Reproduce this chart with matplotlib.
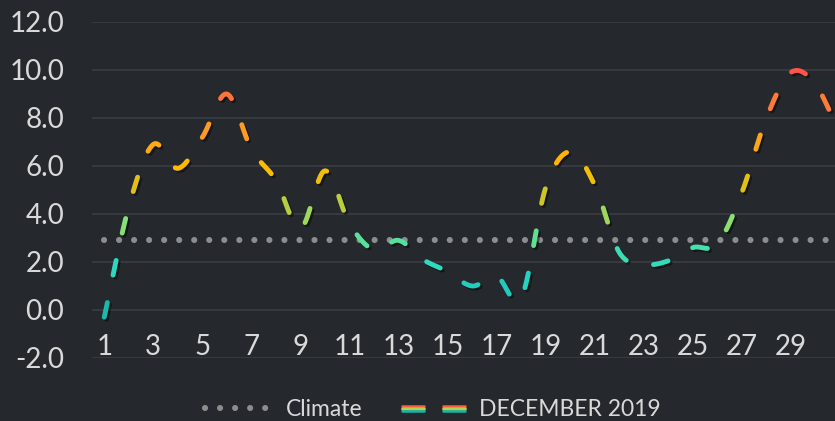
import numpy as np
import matplotlib
matplotlib.use("Agg")
import matplotlib.pyplot as plt
import matplotlib.patheffects as pe
from matplotlib.colors import LinearSegmentedColormap, Normalize
from matplotlib.legend_handler import HandlerBase
from matplotlib.lines import Line2D

plt.rcParams["font.family"] = ["Lato", "DejaVu Sans"]

# data
days = list(range(1, 32))
dec_temp = [-0.3, 4.3, 6.9, 5.9, 7.2, 9.0, 6.7, 5.4, 3.4, 5.8,
            3.6, 2.5, 2.9, 2.1, 1.6, 1.0, 1.4, 0.5, 5.1, 6.6,
            5.2, 2.4, 1.9, 2.05, 2.6, 2.75, 4.9, 8.0, 9.9, 9.4,
            7.3]
climate = [2.9] * 31
xticks = list(range(1, 30, 2))
yticks = [-2, 0, 2, 4, 6, 8, 10, 12]

bg = "#25292d"
grid_col = "#3a3e42"
text_col = "#d9d9d9"

# colour by temperature, teal (cold) -> red (warm)
stops = [(-2.0, "#129d96"), (-0.5, "#17aea3"), (1.5, "#28d6c6"), (2.6, "#44e0ac"),
         (3.6, "#8ce070"), (4.8, "#cfc424"), (6.0, "#ffbb00"), (7.3, "#ff9f22"),
         (8.5, "#ff7f35"), (10.0, "#ff5349"), (12.0, "#ff4040")]
vmin, vmax = -2.0, 12.0
cmap = LinearSegmentedColormap.from_list(
    "temp", [((v - vmin) / (vmax - vmin), c) for v, c in stops])
norm = Normalize(vmin, vmax)

fig = plt.figure(figsize=(8.35, 4.21), dpi=100, facecolor=bg)
ax = fig.add_axes([92 / 835, 63 / 421, 1 - 92 / 835, 336 / 421])
ax.set_facecolor(bg)
ax.set_xlim(0.5, 1 + (835 - 105) / 24.5)
ax.set_ylim(-2, 12)

ax.set_yticks(yticks)
ax.set_yticklabels(["%.1f" % v for v in yticks])
ax.set_xticks(xticks)
ax.set_xticklabels([str(d) for d in xticks])
ax.grid(axis="y", color=grid_col, lw=1.2)
ax.set_axisbelow(True)
for s in ax.spines.values():
    s.set_visible(False)
ax.spines["bottom"].set_position(("data", 0))
ax.tick_params(axis="y", length=0, pad=20, labelsize=20, labelcolor=text_col)
ax.tick_params(axis="x", length=0, pad=17, labelsize=20, labelcolor=text_col)

# climate reference, dotted
clim_line, = ax.plot(days, climate, color="#8d8d8d", lw=4.4,
                     dashes=(0.01, 2.45), dash_capstyle="round", label="Climate")

# smoothed december curve (bezier like Excel's smoothed line)
pts = np.column_stack([days, dec_temp]).astype(float)
n = len(pts)
t = np.linspace(0, 1, 60)[:, None]
curve = []
for i in range(n - 1):
    p0 = pts[max(i - 1, 0)]
    p1 = pts[i]
    p2 = pts[i + 1]
    p3 = pts[min(i + 2, n - 1)]
    c1 = p1 + (p2 - p0) / 6
    c2 = p2 - (p3 - p1) / 6
    seg = ((1 - t) ** 3) * p1 + 3 * ((1 - t) ** 2) * t * c1 + 3 * (1 - t) * t ** 2 * c2 + t ** 3 * p2
    curve.append(seg if i == 0 else seg[1:])
curve = np.vstack(curve)

disp = ax.transData.transform(curve)
arc = np.concatenate([[0], np.cumsum(np.hypot(*np.diff(disp, axis=0).T))])
dash_on, period = 15.0, 43.0
shadow = [pe.SimpleLineShadow(offset=(1.5, -1.5), shadow_color="black", alpha=0.45),
          pe.Normal()]
start = 0.0
while start < arc[-1]:
    s = np.linspace(start, min(start + dash_on, arc[-1]), 12)
    dx = np.interp(s, arc, curve[:, 0])
    dy = np.interp(s, arc, curve[:, 1])
    ax.plot(dx, dy, color=cmap(norm(dy.mean())), lw=3.5,
            solid_capstyle="round", path_effects=shadow)
    start += period


class StripedDashes(HandlerBase):
    def create_artists(self, legend, orig_handle, xdescent, ydescent,
                       width, height, fontsize, trans):
        arts = []
        cols = ["#ff5a45", "#ffb400", "#8ee06a", "#1ab5aa"]
        w = width * 0.4
        for x0 in (0, width - w):
            for k, c in enumerate(cols):
                yy = height / 2 + 1.8 - k * 1.2
                arts.append(Line2D([x0 + 2, x0 + w - 2], [yy, yy], color=c, lw=1.8,
                                   solid_capstyle="round", transform=trans))
        return arts


dec_handle = Line2D([], [], label="DECEMBER 2019")
fig.legend([clim_line, dec_handle], ["Climate", "DECEMBER 2019"],
           handler_map={dec_handle: StripedDashes()},
           loc="center", bbox_to_anchor=(433 / 835, 1 - 410 / 421), ncol=2,
           frameon=False, fontsize=16.5, labelcolor=text_col,
           handlelength=3.0, handletextpad=0.5, columnspacing=1.6)

fig.savefig("out.png", dpi=100, facecolor=bg)
